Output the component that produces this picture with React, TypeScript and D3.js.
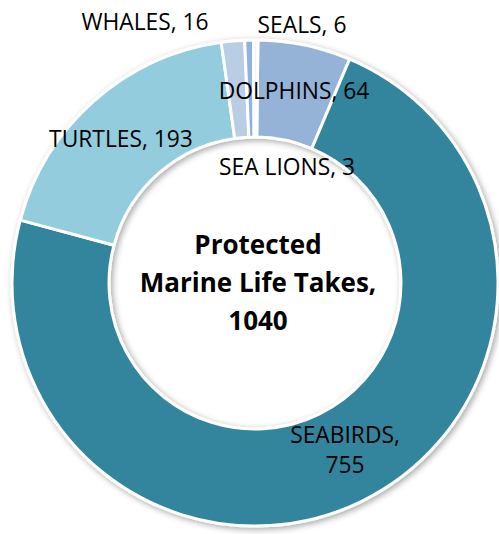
import React from "react";
import * as d3 from "d3";

const categories = ["DOLPHINS", "SEABIRDS", "TURTLES", "WHALES", "SEALS", "SEA LIONS"];
const values = [64, 755, 193, 16, 6, 3];
const colors = ["#95b3d7", "#31859c", "#93cddd", "#b9cde5", "#8db3e2", "#eef3f9"];
const titleLines = ["Protected", "Marine Life Takes,", "1040"];

// label anchor points (layout)
const labelLayout: { x: number; y: number; lines: string[] }[] = [
  { x: 294, y: 99, lines: ["DOLPHINS, 64"] },
  { x: 345, y: 443, lines: ["SEABIRDS,", "755"] },
  { x: 121, y: 147, lines: ["TURTLES, 193"] },
  { x: 145, y: 30, lines: ["WHALES, 16"] },
  { x: 302, y: 33, lines: ["SEALS, 6"] },
  { x: 287, y: 175, lines: ["SEA LIONS, 3"] },
];

const W = 499;
const H = 534;
const cx = 255;
const cy = 283;
const R = 243;
const r = 146;

export default function App() {
  const pie = d3.pie<number>().sort(null).value((d) => d).startAngle(0.012).endAngle(Math.PI * 2 + 0.012);
  const arcs = pie(values);
  const arc = d3.arc<d3.PieArcDatum<number>>().innerRadius(r).outerRadius(R);
  const font = "'Open Sans', sans-serif";
  return (
    <svg width={W} height={H} style={{ position: "absolute", left: 0, top: 0, background: "#fff" }}>
      <defs>
        <filter id="sh" x="-10%" y="-10%" width="120%" height="120%">
          <feDropShadow dx="2" dy="2" stdDeviation="3" floodColor="#000" floodOpacity="0.35" />
        </filter>
      </defs>
      <g transform={`translate(${cx},${cy})`} filter="url(#sh)">
        {arcs.map((a, i) => (
          <path key={categories[i]} d={arc(a) || ""} fill={colors[i]} stroke="#fff" strokeWidth={3} strokeLinejoin="round" />
        ))}
      </g>
      <g fontFamily={font} fontSize={22.8} fill="#000" textAnchor="middle">
        {labelLayout.map((l, i) => (
          <text key={i} x={l.x} y={l.y}>
            {l.lines.map((ln, j) => (
              <tspan key={j} x={l.x} dy={j === 0 ? 0 : 30}>
                {ln}
              </tspan>
            ))}
          </text>
        ))}
      </g>
      <g fontFamily={font} fontSize={26} fontWeight="bold" fill="#000" textAnchor="middle">
        {titleLines.map((t, i) => (
          <text key={i} x={cx + 3} y={254 + i * 38}>
            {t}
          </text>
        ))}
      </g>
    </svg>
  );
}
